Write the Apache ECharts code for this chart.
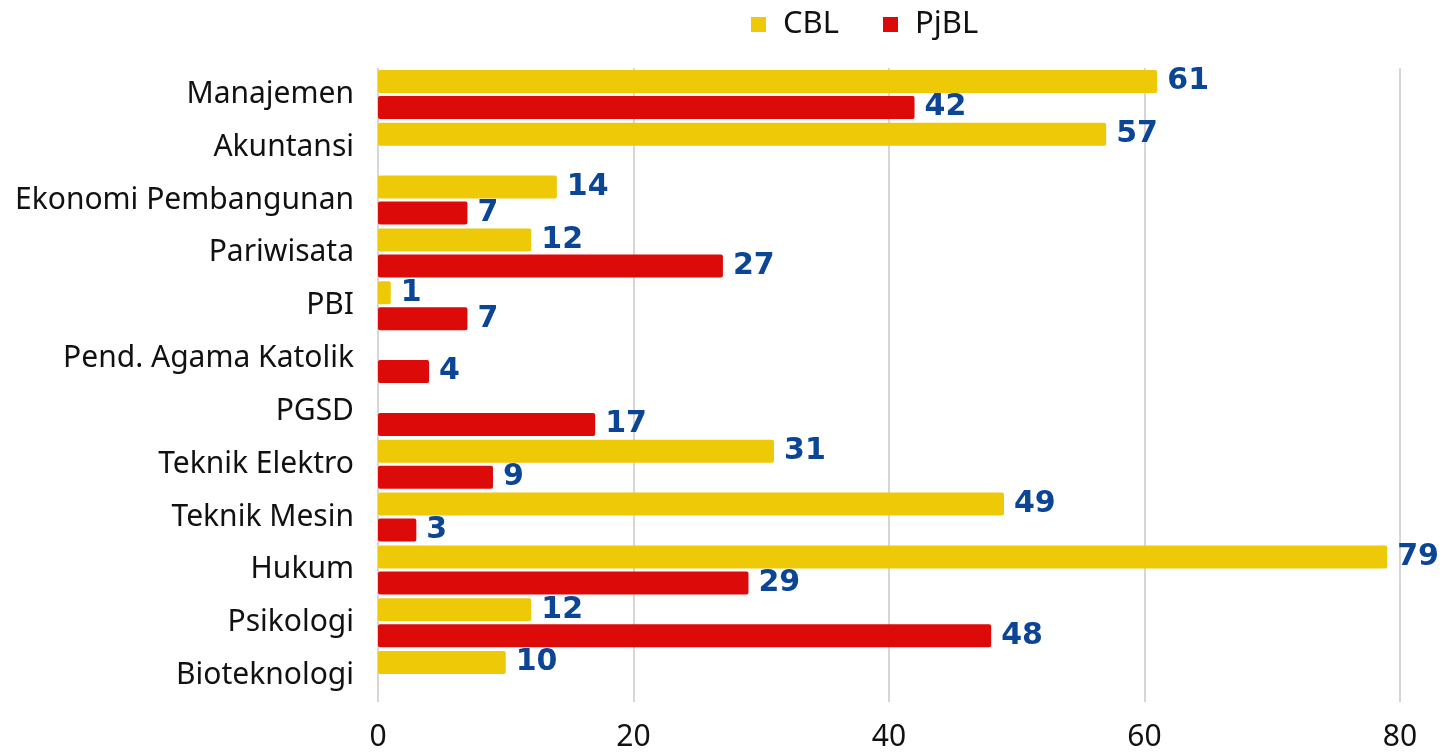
<!DOCTYPE html>
<html>
<head>
<meta charset="utf-8">
<script src="https://cdn.jsdelivr.net/npm/echarts@6/dist/echarts.min.js"></script>
<style>
html, body { margin: 0; padding: 0; background: #fff; }
#chart { width: 1447px; height: 752px; }
</style>
</head>
<body>
<div id="chart"></div>
<script>
// program studi
var categories = ['Manajemen', 'Akuntansi', 'Ekonomi Pembangunan', 'Pariwisata', 'PBI',
	'Pend. Agama Katolik', 'PGSD', 'Teknik Elektro', 'Teknik Mesin', 'Hukum', 'Psikologi', 'Bioteknologi'];
var cblData = [61, 57, 14, 12, 1, null, null, 31, 49, 79, 12, 10];
var pjblData = [42, null, 7, 27, 7, 4, 17, 9, 3, 29, 48, null];
var xTicks = [0, 20, 40, 60, 80];

var fontName = '"Noto Sans", sans-serif';
var labelStyle = {
	show: true,
	position: 'right',
	distance: 10,
	color: '#0B4596',
	fontSize: 30,
	fontWeight: 'bold',
	fontFamily: '"DejaVu Sans", sans-serif'
};

var chart = echarts.init(document.getElementById('chart'));
var option = {
	animation: false,
	legend: {
		left: 746,
		top: 4,
		itemWidth: 15,
		itemHeight: 15,
		itemGap: 44,
		icon: 'rect',
		textStyle: {
			fontSize: 31,
			color: '#111',
			fontFamily: fontName,
			padding: [0, 0, 0, 12]
		},
		data: ['CBL', 'PjBL']
	},
	grid: {
		left: 378,
		right: 47,
		top: 68,
		bottom: 50
	},
	xAxis: {
		type: 'value',
		min: xTicks[0],
		max: xTicks[xTicks.length - 1],
		interval: 20,
		axisLine: { show: false },
		axisTick: { show: false },
		splitLine: { lineStyle: { color: '#c8c8c8', width: 1.5 } },
		axisLabel: {
			margin: 20,
			fontSize: 30,
			color: '#111',
			fontFamily: fontName
		}
	},
	yAxis: {
		type: 'category',
		inverse: true,
		data: categories,
		axisLine: { show: false },
		axisTick: { show: false },
		axisLabel: {
			margin: 24,
			fontSize: 30,
			color: '#111',
			fontFamily: fontName,
			padding: [8, 0, 0, 0]
		}
	},
	series: [{
		name: 'CBL',
		type: 'bar',
		barWidth: 23,
		barGap: '13%',
		itemStyle: { color: '#EEC908', borderRadius: 2 },
		label: labelStyle,
		data: cblData
	}, {
		name: 'PjBL',
		type: 'bar',
		barWidth: 23,
		barGap: '13%',
		itemStyle: { color: '#DD0A0A', borderRadius: 2 },
		label: labelStyle,
		data: pjblData
	}]
};
chart.setOption(option);
</script>
</body>
</html>
